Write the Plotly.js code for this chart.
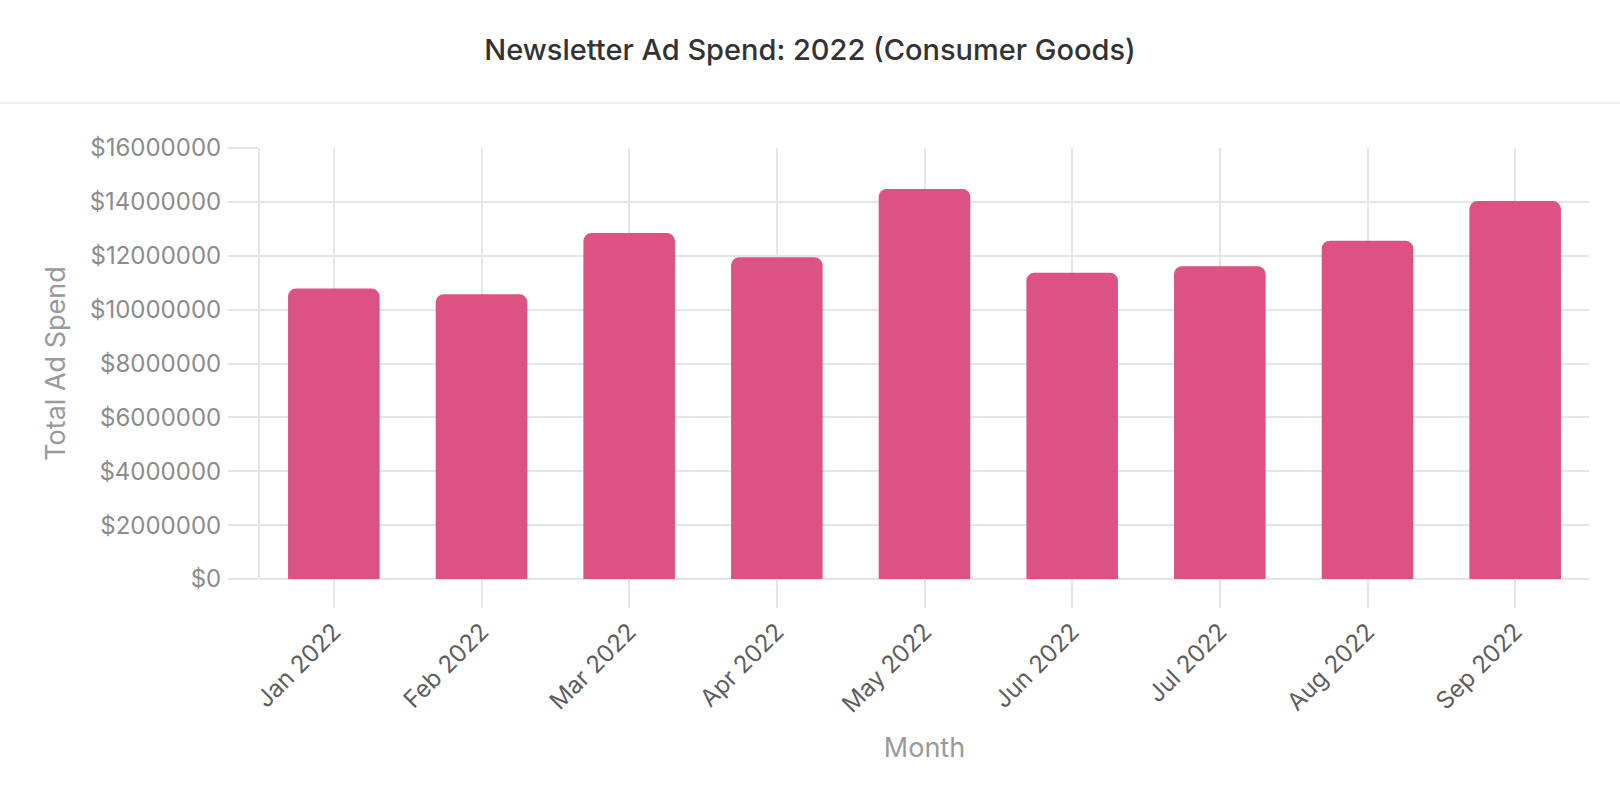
<!DOCTYPE html>
<html>
<head>
<meta charset="utf-8">
<script src="https://cdn.plot.ly/plotly-3.0.1.min.js"></script>
<style>
  html, body { margin: 0; padding: 0; background: #fff; }
  #chart { width: 1620px; height: 794px; }
</style>
</head>
<body>
<div id="chart"></div>
<script>
// ---- data ----
var months = ["Jan 2022", "Feb 2022", "Mar 2022", "Apr 2022", "May 2022", "Jun 2022", "Jul 2022", "Aug 2022", "Sep 2022"];
var adSpend = [10780000, 10570000, 12840000, 11940000, 14480000, 11370000, 11610000, 12560000, 14030000];
var yTickValues = [0, 2000000, 4000000, 6000000, 8000000, 10000000, 12000000, 14000000, 16000000];
var yTickLabels = yTickValues.map(function (v) { return "$" + v; });

// ---- layout constants ----
var W = 1620, H = 794;
var M = { l: 260, r: 31, t: 148, b: 214.5 };
var plotH = H - M.t - M.b;
var plotW = W - M.l - M.r;
var gridCol = "#e6e6e6";
var fontFam = "Inter, 'Noto Sans', 'DejaVu Sans', sans-serif";
var sepY = 103; // header separator pixel row

var trace = {
  type: "bar",
  x: months,
  y: adSpend,
  width: 0.62,
  marker: { color: "#dc5283", cornerradius: 8, line: { width: 0 } },
  hoverinfo: "x+y"
};

var layout = {
  width: W,
  height: H,
  margin: M,
  paper_bgcolor: "#ffffff",
  plot_bgcolor: "#ffffff",
  showlegend: false,
  font: { family: fontFam },
  title: {
    text: "Newsletter Ad Spend: 2022 (Consumer Goods)",
    x: 0.5, xref: "container", xanchor: "center",
    y: 1 - 50 / H, yref: "container", yanchor: "middle",
    font: { family: fontFam, size: 29, color: "#333333", weight: 500 }
  },
  xaxis: {
    type: "category",
    showgrid: true, gridcolor: gridCol, gridwidth: 2,
    ticks: "outside", ticklen: 28, tickwidth: 2, tickcolor: gridCol,
    tickangle: -45,
    tickfont: { family: fontFam, size: 24, color: "#5e5e5e" },
    showline: false, zeroline: false,
    title: { text: "Month", font: { family: fontFam, size: 27, color: "#9a9a9a" }, standoff: 20 },
    automargin: false
  },
  yaxis: {
    range: [0, 16000000],
    tickmode: "array",
    tickvals: yTickValues,
    ticktext: yTickLabels,
    showgrid: true, gridcolor: gridCol, gridwidth: 2,
    zeroline: true, zerolinecolor: gridCol, zerolinewidth: 2,
    showline: true, linecolor: gridCol, linewidth: 2,
    ticks: "outside", ticklen: 30, tickwidth: 2, tickcolor: gridCol,
    ticklabelstandoff: 2,
    tickfont: { family: fontFam, size: 24, color: "#8c8c8c" },
    title: { text: "Total Ad Spend", font: { family: fontFam, size: 27, color: "#9a9a9a" }, standoff: 16 },
    automargin: false
  },
  shapes: [{
    type: "line",
    xref: "paper", yref: "paper",
    x0: -M.l / plotW, x1: (W - M.l) / plotW,
    y0: (H - M.b - sepY) / plotH, y1: (H - M.b - sepY) / plotH,
    line: { color: "#efefef", width: 2 },
    layer: "below"
  }],
  bargap: 0.38
};

Plotly.newPlot("chart", [trace], layout, { displayModeBar: false, responsive: false });
</script>
</body>
</html>
